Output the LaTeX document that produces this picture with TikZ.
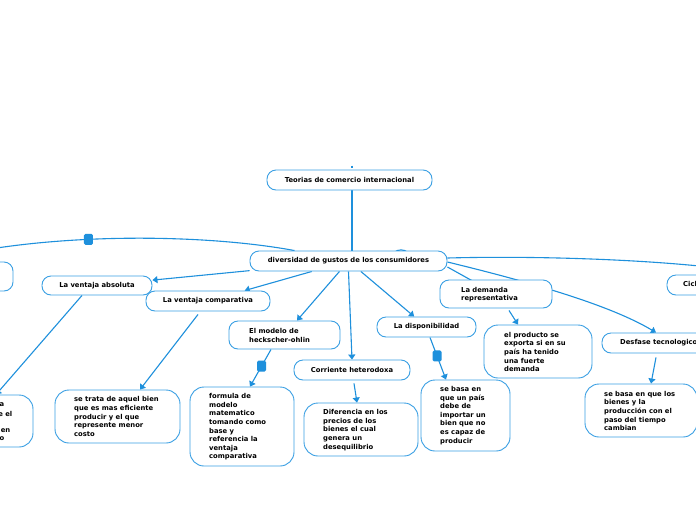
\documentclass[tikz,border=0pt]{standalone}
\usepackage{fontspec}
\setmainfont{DejaVu Sans}
\usetikzlibrary{arrows.meta,backgrounds}
\definecolor{lineblue}{HTML}{1E90DC}
\definecolor{boxblue}{HTML}{3A9FE3}
\tikzset{
  box/.style={draw=boxblue, line width=0.9pt, fill=white, rounded corners=#1, inner sep=0pt},
  box/.default=9pt,
  lbl/.style={font=\fontsize{6.8}{8.6}\selectfont\bfseries, text=black, align=left, inner sep=0pt},
  conn/.style={draw=lineblue, line width=1.1pt},
  arr/.style={conn, -{Triangle[length=5pt,width=7pt]}},
  sq/.style={fill=lineblue, rounded corners=1.5pt, minimum width=9pt, minimum height=11pt, inner sep=0pt}
}
\begin{document}
\begin{tikzpicture}[x=1pt,y=-1pt]
\useasboundingbox (0,0) rectangle (696,520);
% ---------- nodes ----------
\node[box, lbl, minimum width=165pt, minimum height=20pt] (title) at (349.5,180) {Teorias de comercio internacional};
\node[box, lbl, minimum width=197pt, minimum height=20pt] (main) at (348.5,261) {diversidad de gustos de los consumidores};
\node[box, minimum width=166pt, minimum height=29pt] (lt) at (-70,276.5) {};
\node[box, lbl, minimum width=110pt, minimum height=19pt] (absol) at (97,285.5) {La ventaja absoluta};
\node[box, lbl, minimum width=124pt, minimum height=20pt] (comp) at (208,301) {La ventaja comparativa};
\node[box, minimum width=111pt, minimum height=28pt] (modelo) at (284.5,335) {};
\node[lbl, anchor=west] (tmodelo) at (249,335.5) {El modelo de\\heckscher-ohlin};
\node[box, lbl, minimum width=116pt, minimum height=20pt] (corr) at (352,370) {Corriente heterodoxa};
\node[box, lbl, minimum width=99pt, minimum height=20pt] (dispon) at (426.5,327) {La disponibilidad};
\node[box, minimum width=112pt, minimum height=28pt] (demanda) at (496,294) {};
\node[lbl, anchor=west] (tdemanda) at (461,294.5) {La demanda\\representativa};
\node[box, minimum width=186pt, minimum height=20pt] (cicl) at (760,285) {};
\node[lbl, anchor=west] (tcicl) at (683,285) {Ciclo de vida del producto};
\node[box, minimum width=108pt, minimum height=20pt] (desfase) at (656,343) {};
\node[lbl, anchor=west] (tdesfase) at (620,343) {Desfase tecnologico};
% big boxes
\node[box=14pt, minimum width=133pt, minimum height=52pt] (lb) at (-33.5,421) {};
\node[lbl, anchor=east] (lb1) at (4.5,405) {a};
\node[lbl, anchor=east] (lb2) at (12.5,413.5) {e el};
\node[lbl, anchor=east] (lb4) at (10.5,430.5) {en};
\node[lbl, anchor=east] (lb5) at (4.5,439) {o};
\node[box=14pt, minimum width=125pt, minimum height=53pt] (strata) at (117.5,416.5) {};
\node[lbl, anchor=west] (tstrata) at (74,416.5) {se trata de aquel bien\\que es mas eficiente\\producir y el que\\represente menor\\costo};
\node[box=14pt, minimum width=104pt, minimum height=79pt] (formula) at (242,426.5) {};
\node[lbl, anchor=west] (tformula) at (209,427) {formula de\\modelo\\matematico\\tomando como\\base y\\referencia la\\ventaja\\comparativa};
\node[box=14pt, minimum width=114pt, minimum height=53pt] (dif) at (361,429.5) {};
\node[lbl, anchor=west] (tdif) at (323,430) {Diferencia en los\\precios de los\\bienes el cual\\genera un\\desequilibrio};
\node[box=14pt, minimum width=89pt, minimum height=71pt] (pais) at (465.5,415.5) {};
\node[lbl, anchor=west] (tpais) at (440,415.5) {se basa en\\que un país\\debe de\\importar un\\bien que no\\es capaz de\\producir};
\node[box=14pt, minimum width=108pt, minimum height=53pt] (producto) at (538,351.5) {};
\node[lbl, anchor=west] (tproducto) at (504,352) {el producto se\\exporta si en su\\país ha tenido\\una fuerte\\demanda};
\node[box=14pt, minimum width=112pt, minimum height=53pt] (bienes) at (641,410.5) {};
\node[lbl, anchor=west] (tbienes) at (604,411) {se basa en que los\\bienes y la\\producción con el\\paso del tiempo\\cambian};
% ---------- connectors (behind) ----------
\begin{scope}[on background layer]
\fill[white] (0,0) rectangle (696,520);
\draw[conn] (352,165.5) -- (352,168);
\draw[conn] ([xshift=2.5pt]title.south) -- ([xshift=3.5pt]main.north);
\draw[conn] ([xshift=-54pt]main.north) .. controls (200,233) and (40,232) .. (lt.north)
   node[sq, pos=0.575] (sqa) {};
\draw[conn] ([yshift=3pt]main.east) .. controls (560,255) and (700,262) .. (cicl.north);
\draw[conn] (394,252.5) .. controls (398,249) and (404,249) .. (408,252.5);
\draw[arr] (main) -- (absol);
\draw[arr] (main) -- (comp);
\draw[arr] (main) -- (modelo);
\draw[arr] (main.south) -- (corr.north);
\draw[arr] (main) -- (dispon);
\draw[conn] ([yshift=-6pt]main.east) -- (demanda.center);
\draw[arr] ([yshift=-1pt]main.east) .. controls (530,282) and (610,305) .. (desfase.north);
\draw[arr] ([xshift=-15pt]absol.south) -- ([xshift=29.5pt]lb.north);
\draw[arr] ([xshift=-10pt,yshift=-3pt]comp.south) -- ([xshift=22.5pt]strata.north);
\draw[arr] ([xshift=-13.5pt]modelo.south) -- ([xshift=8pt]formula.north) node[sq, pos=0.45] (sqb) {};
\draw[arr] ([xshift=2pt,yshift=-3pt]corr.south) -- ([xshift=-4pt]dif.north);
\draw[arr] ([xshift=3.5pt]dispon.south) -- ([xshift=-19.5pt]pais.north) node[sq, pos=0.44] (sqc) {};
\draw[arr] ([xshift=13pt,yshift=-2pt]demanda.south) -- ([xshift=-20pt]producto.north);
\draw[arr] ([yshift=-4pt]desfase.south) -- ([xshift=10pt]bienes.north);
\end{scope}
\end{tikzpicture}
\end{document}
